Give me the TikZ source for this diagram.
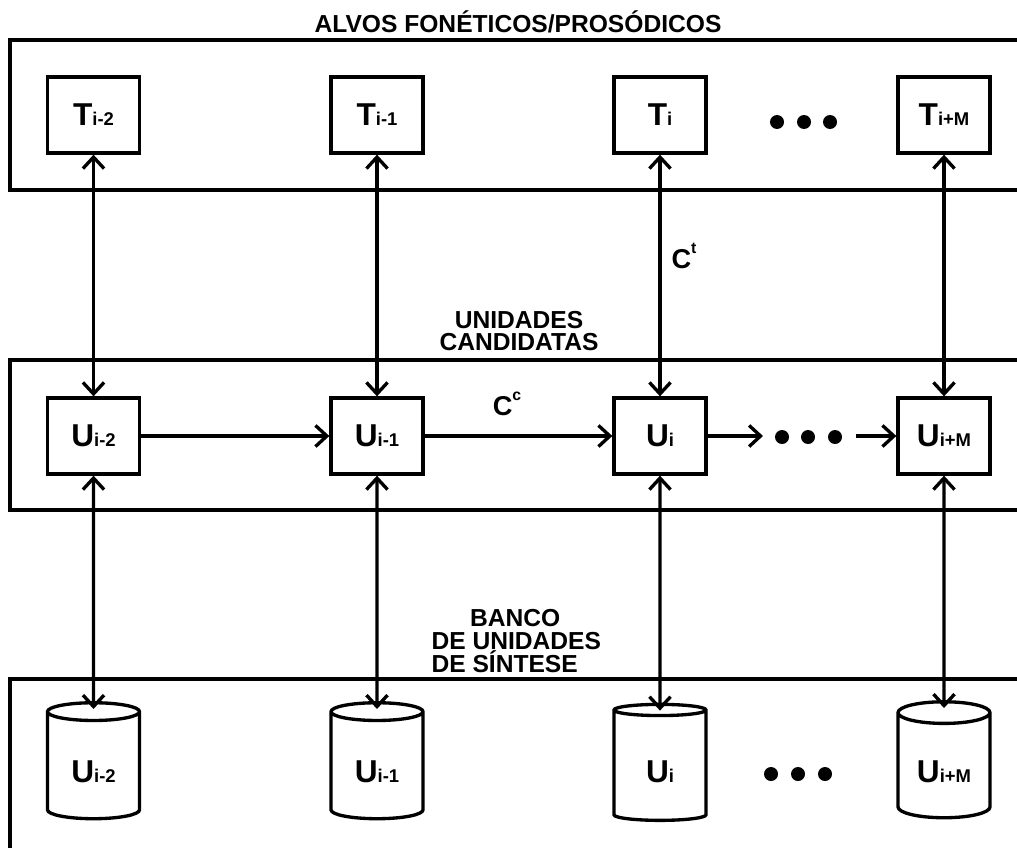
\documentclass[tikz,border=0pt]{standalone}
\usepackage{fontspec}
\setmainfont{Liberation Sans}
\usetikzlibrary{arrows.meta, positioning, shapes.geometric}

\newcommand{\sublbl}[2]{{\fontsize{18}{20}\selectfont #1}{\fontsize{10.5}{12}\selectfont #2}}
\newcommand{\costlbl}[1]{{\fontsize{15.5}{16}\selectfont C}\raisebox{8.5pt}{\fontsize{9}{9}\selectfont #1}}

\begin{document}
\begin{tikzpicture}[x=0.02cm, y=-0.02cm, line width=1.9pt,
  >={Straight Barb[length=6.5pt, width=12pt]},
  unit/.style={draw, rectangle, minimum width=1.84cm, minimum height=1.52cm, inner sep=0pt, font=\bfseries},
  store/.style={draw, cylinder, shape border rotate=90, aspect=0.4, minimum width=1.84cm, minimum height=2.32cm, inner sep=0pt, font=\bfseries},
  dot/.style={circle, fill=black, inner sep=0pt, minimum size=0.28cm},
  title/.style={font=\bfseries\fontsize{14}{13}\selectfont, align=center}]
  \useasboundingbox (0,0) rectangle (1017,848);

  % frames of the three layers
  \draw (1017,40) -- (10,40) -- (10,190) -- (1017,190);
  \draw (1017,360) -- (10,360) -- (10,510) -- (1017,510);
  \draw (1017,679) -- (10,679) -- (10,848);

  \node[title] (ttl) at (518,22) {ALVOS FONÉTICOS/PROSÓDICOS};
  \node[title] (uttl) at (519,331) {UNIDADES\\CANDIDATAS};
  \node[title, align=left, anchor=west] (bttl) at (424,641) {\hspace*{22pt}BANCO\\DE UNIDADES\\DE SÍNTESE};

  % targets
  \node[unit] (t1) at (93.5,115) {\sublbl{T}{i-2}};
  \node[unit] (t2) at (377,115) {\sublbl{T}{i-1}};
  \node[unit] (t3) at (660,115) {\sublbl{T}{i}};
  \node[unit] (t4) at (944,115) {\sublbl{T}{i+M}};
  \node[dot] (td1) at (777,122) {};
  \node[dot] (td2) at (804,122) {};
  \node[dot] (td3) at (830,122) {};

  % candidates
  \node[unit] (u1) at (93.5,436) {\sublbl{U}{i-2}};
  \node[unit] (u2) at (377,436) {\sublbl{U}{i-1}};
  \node[unit] (u3) at (660,436) {\sublbl{U}{i}};
  \node[unit] (u4) at (944,436) {\sublbl{U}{i+M}};
  \node[dot] (ud1) at (782,437) {};
  \node[dot] (ud2) at (808,437) {};
  \node[dot] (ud3) at (835,437) {};
  \coordinate (ua) at (763,436);
  \coordinate (ub) at (856,436);

  % database
  \node[store] (d1) at (93.5,766) {\raisebox{-9.5pt}[0pt][0pt]{\sublbl{U}{i-2}}};
  \node[store] (d2) at (377,766) {\raisebox{-9.5pt}[0pt][0pt]{\sublbl{U}{i-1}}};
  \node[store] (d3) at (660,766) {\raisebox{-9.5pt}[0pt][0pt]{\sublbl{U}{i}}};
  \node[store] (d4) at (944,766) {\raisebox{-9.5pt}[0pt][0pt]{\sublbl{U}{i+M}}};
  \node[dot] (dd1) at (771,774) {};
  \node[dot] (dd2) at (798,774) {};
  \node[dot] (dd3) at (825,774) {};

  \draw[<->] (t1) -- (u1);
  \draw[<->] (t2) -- (u2);
  \draw[<->] (t3) -- (u3);
  \draw[<->] (t4) -- (u4);
  \draw[<->, shorten >=-4.5pt] (u1) -- (d1.north);
  \draw[<->, shorten >=-4.5pt] (u2) -- (d2.north);
  \draw[<->, shorten >=-4.5pt] (u3) -- (d3.north);
  \draw[<->, shorten >=-4.5pt] (u4) -- (d4.north);
  \draw[->] (u1) -- (u2);
  \draw[->] (u2) -- (u3);
  \draw[->] (u3) -- (ua);
  \draw[->] (ub) -- (u4);

  \node[font=\bfseries] (ct) at (684,256) {\costlbl{t}};
  \node[font=\bfseries] (cc) at (507,404) {\costlbl{c}};
\end{tikzpicture}
\end{document}
